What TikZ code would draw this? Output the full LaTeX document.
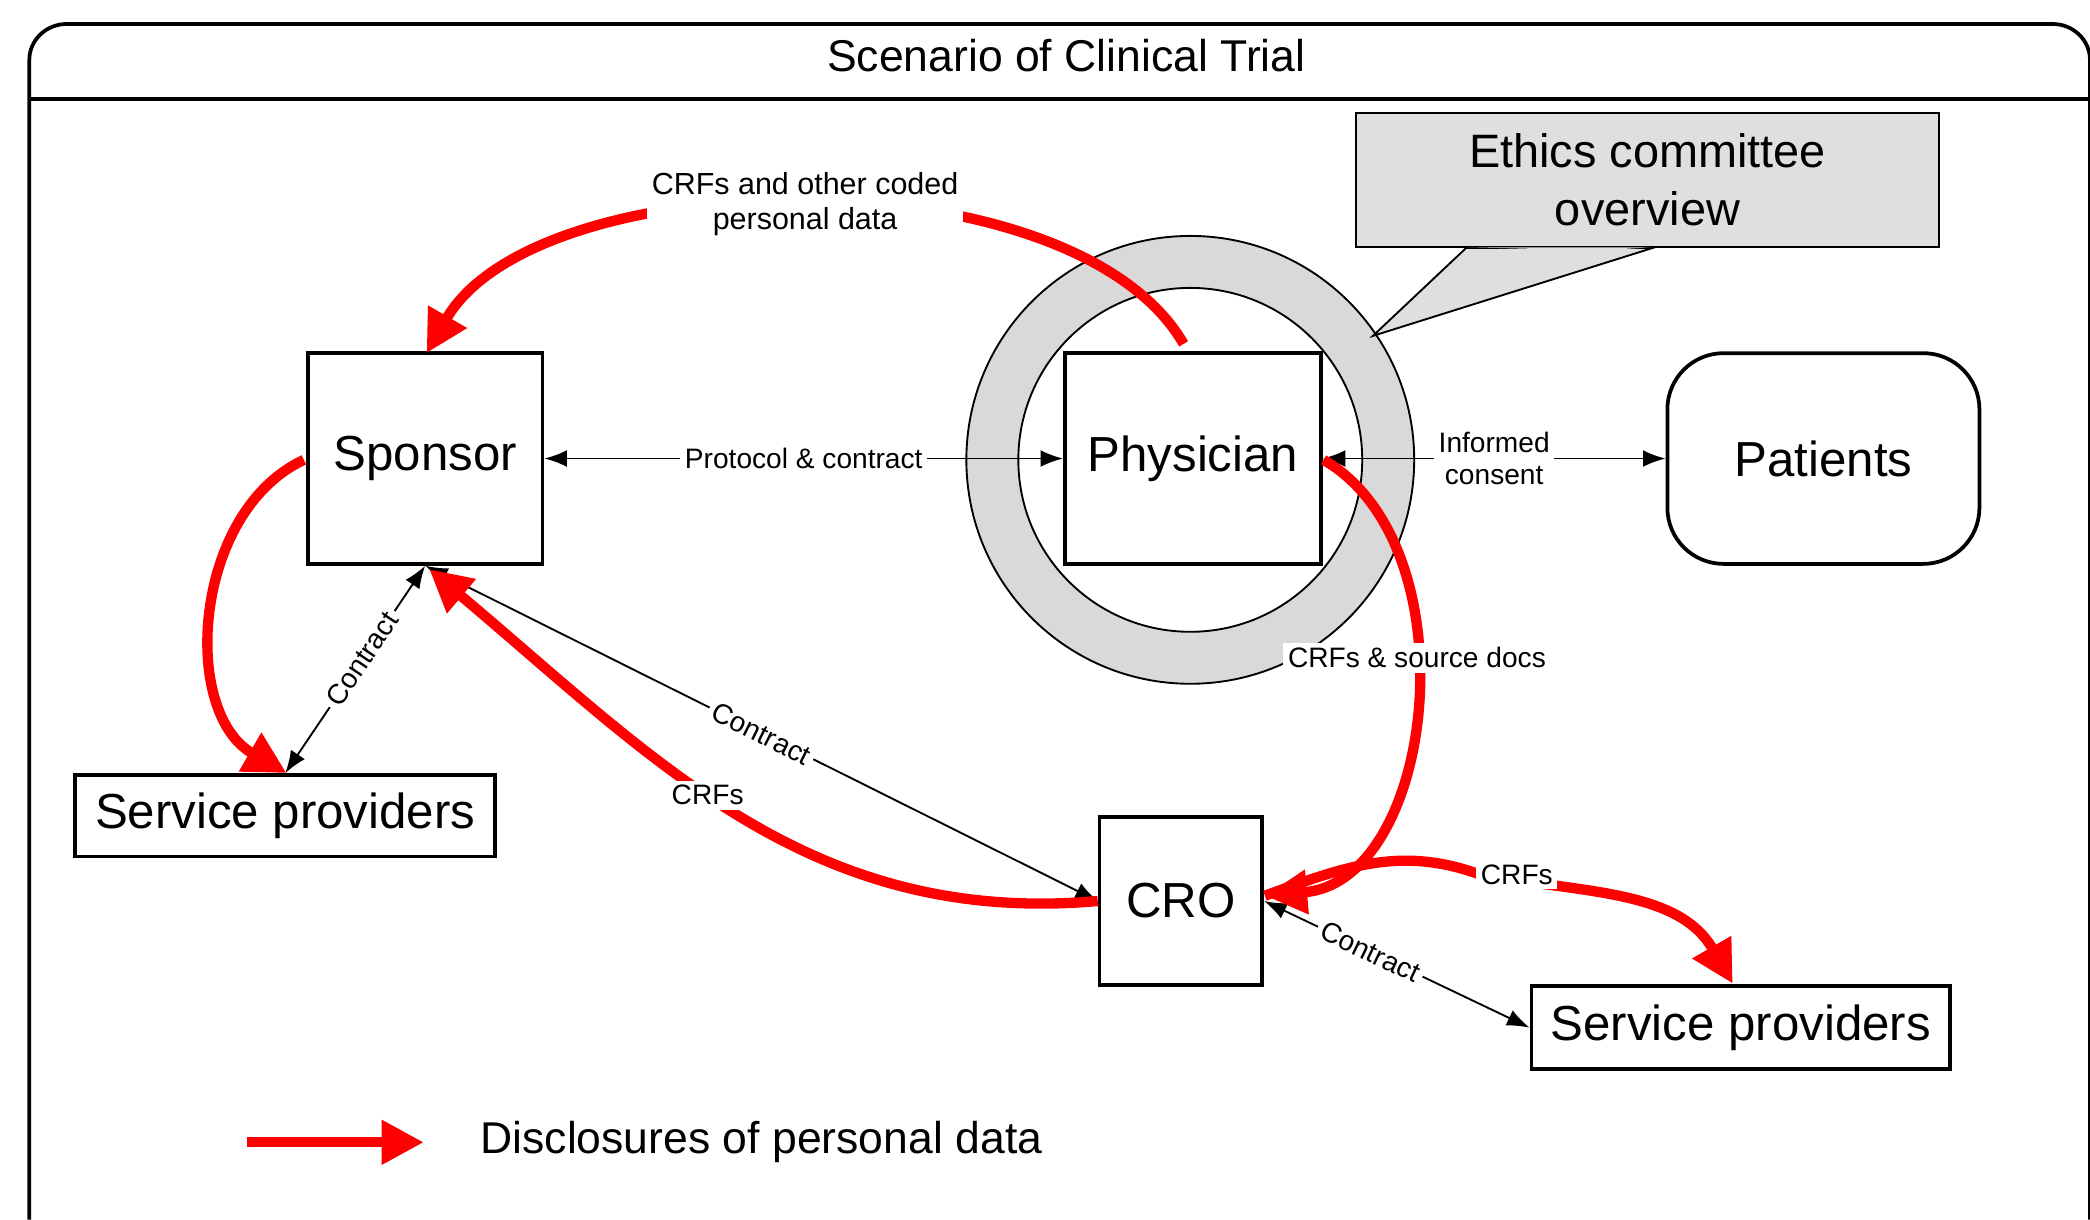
\documentclass[tikz,border=0pt]{standalone}
\usepackage{fontspec}
\setmainfont{Liberation Sans}
\usetikzlibrary{arrows.meta,positioning,shapes.geometric}
\tikzset{
 actor/.style={draw,thick,fill=white,font=\fontsize{10.5}{12}\selectfont,inner sep=0pt},
 small/.style={font=\fontsize{6}{7}\selectfont,text=black,fill=white,inner sep=1pt,align=center},
 contract/.style={Latex-Latex,thin},
 disclose/.style={red,line width=2.2pt,-{Triangle[length=9pt,width=9pt]}}
}
\begin{document}
\begin{tikzpicture}[x=0.01cm,y=-0.01cm]
   \useasboundingbox (0,0) rectangle (1568,915);
   % frame and title bar
   \draw[thick] (22,915) -- (22,45) to[out=90,in=180] (50,18) -- (1540,18) to[out=0,in=90] (1568,45) -- (1568,915);
   \draw[thick] (22,74) -- (1568,74);
   \node (title) at (800,42) {\fontsize{9.5}{11}\selectfont Scenario of Clinical Trial};
   % ethics committee ring and callout
   \fill[gray!30,draw=black] (893,345) circle (168);
   \fill[white,draw=black] (893,345) circle (129);
   \draw[fill=gray!25] (1100,186) -- (1030,252) -- (1240,186) -- cycle;
   \node (ethics) [draw,fill=gray!25,minimum width=4.37cm,minimum height=1.01cm,align=center,
     font=\fontsize{10}{12.5}\selectfont] at (1236,135) {Ethics committee\\overview};
   \fill[gray!25] (1102,185.5) -- (1238,185.5) -- (1200,188) -- cycle;
   % actors
   \node (sponsor) [actor,minimum width=1.76cm,minimum height=1.58cm] at (319,344) {Sponsor};
   \node (phys) [actor,minimum width=1.92cm,minimum height=1.58cm] at (895,344) {Physician};
   \node (patients) [actor,rounded corners=12pt,minimum width=2.34cm,minimum height=1.58cm] at (1368,344) {Patients};
   \node (spl) [actor,minimum width=3.15cm,minimum height=0.61cm] at (214,612) {Service providers};
   \node (cro) [actor,minimum width=1.22cm,minimum height=1.26cm] at (886,676) {CRO};
   \node (spr) [actor,minimum width=3.14cm,minimum height=0.62cm] at (1306,771) {Service providers};
   % contracts
   \draw[contract] (sponsor) -- node[small]{Protocol \& contract} (phys);
   \draw[contract] (phys) -- node[small,pos=.5]{Informed\\consent} (patients);
   \draw[contract] (sponsor.south) -- node[small,sloped,pos=.45]{Contract} (spl.north);
   \draw[contract] (sponsor.south) -- node[small,sloped,pos=.5]{Contract} (cro.west);
   \draw[contract] (cro.east) -- node[small,sloped,pos=.4]{Contract} (spr.west);
   % disclosures of personal data
   \draw[disclose] (888,258) to[out=120,in=60,looseness=.75] node[small,pos=.5,font=\fontsize{6.5}{7.5}\selectfont]{CRFs and other coded\\personal data} (320,265);
   \draw[disclose] (228,345) to[out=205,in=150] (215,580);
   \draw[disclose] (cro.west) to[out=185,in=-40] node[small,pos=.55]{CRFs} (322,427);
   \draw[disclose] (993,345) to[out=-30,in=5] node[small,pos=.42]{CRFs \& source docs} (949,672);
   \draw[disclose] (949,672) to[out=20,in=160] (1110,656) to[out=-10,in=120] (1300,738);
   \node (crfs) [small] at (1138,656) {CRFs};
   % legend
   \coordinate (la) at (185,857);
   \coordinate (lb) at (318,857);
   \draw[disclose] (la) -- (lb);
   \node (legend) [right=0.3cm of lb,anchor=west,font=\fontsize{9.5}{11}\selectfont] {Disclosures of personal data};
\end{tikzpicture}
\end{document}
